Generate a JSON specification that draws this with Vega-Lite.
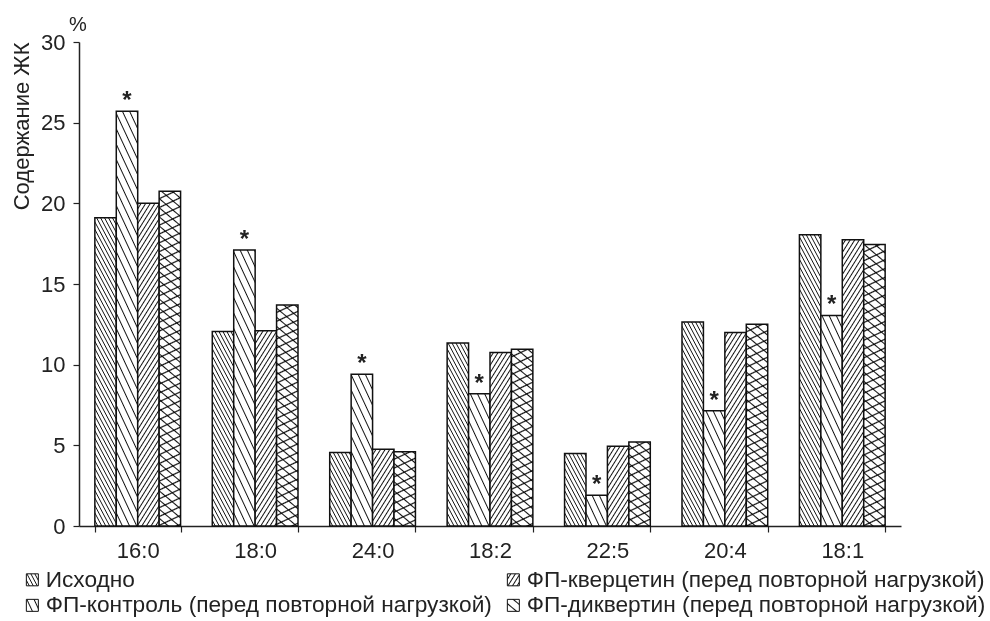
{
  "$schema": "https://vega.github.io/schema/vega-lite/v6.json",
  "width": 822,
  "height": 484,
  "autosize": {"type": "none"},
  "padding": {"left": 79, "top": 42, "right": 89, "bottom": 95},
  "background": "white",
  "config": {"view": {"stroke": null}, "font": "Liberation Sans"},
  "title": {"text": "%", "anchor": "start", "frame": "group", "fontSize": 20, "fontWeight": "normal", "font": "Liberation Sans", "color": "#222", "dx": -10, "offset": -4},
  "params": [
    {"name": "hs", "value": [
      {"offset":0.01,"color":"#fff"},{"offset":0.015,"color":"#111"},{"offset":0.02,"color":"#fff"},
      {"offset":0.03,"color":"#fff"},{"offset":0.035,"color":"#111"},{"offset":0.04,"color":"#fff"},
      {"offset":0.05,"color":"#fff"},{"offset":0.055,"color":"#111"},{"offset":0.06,"color":"#fff"},
      {"offset":0.07,"color":"#fff"},{"offset":0.075,"color":"#111"},{"offset":0.08,"color":"#fff"},
      {"offset":0.09,"color":"#fff"},{"offset":0.095,"color":"#111"},{"offset":0.1,"color":"#fff"},
      {"offset":0.11,"color":"#fff"},{"offset":0.115,"color":"#111"},{"offset":0.12,"color":"#fff"},
      {"offset":0.13,"color":"#fff"},{"offset":0.135,"color":"#111"},{"offset":0.14,"color":"#fff"},
      {"offset":0.15,"color":"#fff"},{"offset":0.155,"color":"#111"},{"offset":0.16,"color":"#fff"},
      {"offset":0.17,"color":"#fff"},{"offset":0.175,"color":"#111"},{"offset":0.18,"color":"#fff"},
      {"offset":0.19,"color":"#fff"},{"offset":0.195,"color":"#111"},{"offset":0.2,"color":"#fff"},
      {"offset":0.21,"color":"#fff"},{"offset":0.215,"color":"#111"},{"offset":0.22,"color":"#fff"},
      {"offset":0.23,"color":"#fff"},{"offset":0.235,"color":"#111"},{"offset":0.24,"color":"#fff"},
      {"offset":0.25,"color":"#fff"},{"offset":0.255,"color":"#111"},{"offset":0.26,"color":"#fff"},
      {"offset":0.27,"color":"#fff"},{"offset":0.275,"color":"#111"},{"offset":0.28,"color":"#fff"},
      {"offset":0.29,"color":"#fff"},{"offset":0.295,"color":"#111"},{"offset":0.3,"color":"#fff"},
      {"offset":0.31,"color":"#fff"},{"offset":0.315,"color":"#111"},{"offset":0.32,"color":"#fff"},
      {"offset":0.33,"color":"#fff"},{"offset":0.335,"color":"#111"},{"offset":0.34,"color":"#fff"},
      {"offset":0.35,"color":"#fff"},{"offset":0.355,"color":"#111"},{"offset":0.36,"color":"#fff"},
      {"offset":0.37,"color":"#fff"},{"offset":0.375,"color":"#111"},{"offset":0.38,"color":"#fff"},
      {"offset":0.39,"color":"#fff"},{"offset":0.395,"color":"#111"},{"offset":0.4,"color":"#fff"},
      {"offset":0.41,"color":"#fff"},{"offset":0.415,"color":"#111"},{"offset":0.42,"color":"#fff"},
      {"offset":0.43,"color":"#fff"},{"offset":0.435,"color":"#111"},{"offset":0.44,"color":"#fff"},
      {"offset":0.45,"color":"#fff"},{"offset":0.455,"color":"#111"},{"offset":0.46,"color":"#fff"},
      {"offset":0.47,"color":"#fff"},{"offset":0.475,"color":"#111"},{"offset":0.48,"color":"#fff"},
      {"offset":0.49,"color":"#fff"},{"offset":0.495,"color":"#111"},{"offset":0.5,"color":"#fff"},
      {"offset":0.51,"color":"#fff"},{"offset":0.515,"color":"#111"},{"offset":0.52,"color":"#fff"},
      {"offset":0.53,"color":"#fff"},{"offset":0.535,"color":"#111"},{"offset":0.54,"color":"#fff"},
      {"offset":0.55,"color":"#fff"},{"offset":0.555,"color":"#111"},{"offset":0.56,"color":"#fff"},
      {"offset":0.57,"color":"#fff"},{"offset":0.575,"color":"#111"},{"offset":0.58,"color":"#fff"},
      {"offset":0.59,"color":"#fff"},{"offset":0.595,"color":"#111"},{"offset":0.6,"color":"#fff"},
      {"offset":0.61,"color":"#fff"},{"offset":0.615,"color":"#111"},{"offset":0.62,"color":"#fff"},
      {"offset":0.63,"color":"#fff"},{"offset":0.635,"color":"#111"},{"offset":0.64,"color":"#fff"},
      {"offset":0.65,"color":"#fff"},{"offset":0.655,"color":"#111"},{"offset":0.66,"color":"#fff"},
      {"offset":0.67,"color":"#fff"},{"offset":0.675,"color":"#111"},{"offset":0.68,"color":"#fff"},
      {"offset":0.69,"color":"#fff"},{"offset":0.695,"color":"#111"},{"offset":0.7,"color":"#fff"},
      {"offset":0.71,"color":"#fff"},{"offset":0.715,"color":"#111"},{"offset":0.72,"color":"#fff"},
      {"offset":0.73,"color":"#fff"},{"offset":0.735,"color":"#111"},{"offset":0.74,"color":"#fff"},
      {"offset":0.75,"color":"#fff"},{"offset":0.755,"color":"#111"},{"offset":0.76,"color":"#fff"},
      {"offset":0.77,"color":"#fff"},{"offset":0.775,"color":"#111"},{"offset":0.78,"color":"#fff"},
      {"offset":0.79,"color":"#fff"},{"offset":0.795,"color":"#111"},{"offset":0.8,"color":"#fff"},
      {"offset":0.81,"color":"#fff"},{"offset":0.815,"color":"#111"},{"offset":0.82,"color":"#fff"},
      {"offset":0.83,"color":"#fff"},{"offset":0.835,"color":"#111"},{"offset":0.84,"color":"#fff"},
      {"offset":0.85,"color":"#fff"},{"offset":0.855,"color":"#111"},{"offset":0.86,"color":"#fff"},
      {"offset":0.87,"color":"#fff"},{"offset":0.875,"color":"#111"},{"offset":0.88,"color":"#fff"},
      {"offset":0.89,"color":"#fff"},{"offset":0.895,"color":"#111"},{"offset":0.9,"color":"#fff"},
      {"offset":0.91,"color":"#fff"},{"offset":0.915,"color":"#111"},{"offset":0.92,"color":"#fff"},
      {"offset":0.93,"color":"#fff"},{"offset":0.935,"color":"#111"},{"offset":0.94,"color":"#fff"},
      {"offset":0.95,"color":"#fff"},{"offset":0.955,"color":"#111"},{"offset":0.96,"color":"#fff"},
      {"offset":0.97,"color":"#fff"},{"offset":0.975,"color":"#111"},{"offset":0.98,"color":"#fff"},
      {"offset":0.99,"color":"#fff"},{"offset":0.995,"color":"#111"},{"offset":1,"color":"#fff"}
    ]},
    {"name": "hs2", "value": [
      {"offset":0.014,"color":"#fff"},{"offset":0.017,"color":"#111"},{"offset":0.02,"color":"#fff"},
      {"offset":0.034,"color":"#fff"},{"offset":0.037,"color":"#111"},{"offset":0.04,"color":"#fff"},
      {"offset":0.054,"color":"#fff"},{"offset":0.057,"color":"#111"},{"offset":0.06,"color":"#fff"},
      {"offset":0.074,"color":"#fff"},{"offset":0.077,"color":"#111"},{"offset":0.08,"color":"#fff"},
      {"offset":0.094,"color":"#fff"},{"offset":0.097,"color":"#111"},{"offset":0.1,"color":"#fff"},
      {"offset":0.114,"color":"#fff"},{"offset":0.117,"color":"#111"},{"offset":0.12,"color":"#fff"},
      {"offset":0.134,"color":"#fff"},{"offset":0.137,"color":"#111"},{"offset":0.14,"color":"#fff"},
      {"offset":0.154,"color":"#fff"},{"offset":0.157,"color":"#111"},{"offset":0.16,"color":"#fff"},
      {"offset":0.174,"color":"#fff"},{"offset":0.177,"color":"#111"},{"offset":0.18,"color":"#fff"},
      {"offset":0.194,"color":"#fff"},{"offset":0.197,"color":"#111"},{"offset":0.2,"color":"#fff"},
      {"offset":0.214,"color":"#fff"},{"offset":0.217,"color":"#111"},{"offset":0.22,"color":"#fff"},
      {"offset":0.234,"color":"#fff"},{"offset":0.237,"color":"#111"},{"offset":0.24,"color":"#fff"},
      {"offset":0.254,"color":"#fff"},{"offset":0.257,"color":"#111"},{"offset":0.26,"color":"#fff"},
      {"offset":0.274,"color":"#fff"},{"offset":0.277,"color":"#111"},{"offset":0.28,"color":"#fff"},
      {"offset":0.294,"color":"#fff"},{"offset":0.297,"color":"#111"},{"offset":0.3,"color":"#fff"},
      {"offset":0.314,"color":"#fff"},{"offset":0.317,"color":"#111"},{"offset":0.32,"color":"#fff"},
      {"offset":0.334,"color":"#fff"},{"offset":0.337,"color":"#111"},{"offset":0.34,"color":"#fff"},
      {"offset":0.354,"color":"#fff"},{"offset":0.357,"color":"#111"},{"offset":0.36,"color":"#fff"},
      {"offset":0.374,"color":"#fff"},{"offset":0.377,"color":"#111"},{"offset":0.38,"color":"#fff"},
      {"offset":0.394,"color":"#fff"},{"offset":0.397,"color":"#111"},{"offset":0.4,"color":"#fff"},
      {"offset":0.414,"color":"#fff"},{"offset":0.417,"color":"#111"},{"offset":0.42,"color":"#fff"},
      {"offset":0.434,"color":"#fff"},{"offset":0.437,"color":"#111"},{"offset":0.44,"color":"#fff"},
      {"offset":0.454,"color":"#fff"},{"offset":0.457,"color":"#111"},{"offset":0.46,"color":"#fff"},
      {"offset":0.474,"color":"#fff"},{"offset":0.477,"color":"#111"},{"offset":0.48,"color":"#fff"},
      {"offset":0.494,"color":"#fff"},{"offset":0.497,"color":"#111"},{"offset":0.5,"color":"#fff"},
      {"offset":0.514,"color":"#fff"},{"offset":0.517,"color":"#111"},{"offset":0.52,"color":"#fff"},
      {"offset":0.534,"color":"#fff"},{"offset":0.537,"color":"#111"},{"offset":0.54,"color":"#fff"},
      {"offset":0.554,"color":"#fff"},{"offset":0.557,"color":"#111"},{"offset":0.56,"color":"#fff"},
      {"offset":0.574,"color":"#fff"},{"offset":0.577,"color":"#111"},{"offset":0.58,"color":"#fff"},
      {"offset":0.594,"color":"#fff"},{"offset":0.597,"color":"#111"},{"offset":0.6,"color":"#fff"},
      {"offset":0.614,"color":"#fff"},{"offset":0.617,"color":"#111"},{"offset":0.62,"color":"#fff"},
      {"offset":0.634,"color":"#fff"},{"offset":0.637,"color":"#111"},{"offset":0.64,"color":"#fff"},
      {"offset":0.654,"color":"#fff"},{"offset":0.657,"color":"#111"},{"offset":0.66,"color":"#fff"},
      {"offset":0.674,"color":"#fff"},{"offset":0.677,"color":"#111"},{"offset":0.68,"color":"#fff"},
      {"offset":0.694,"color":"#fff"},{"offset":0.697,"color":"#111"},{"offset":0.7,"color":"#fff"},
      {"offset":0.714,"color":"#fff"},{"offset":0.717,"color":"#111"},{"offset":0.72,"color":"#fff"},
      {"offset":0.734,"color":"#fff"},{"offset":0.737,"color":"#111"},{"offset":0.74,"color":"#fff"},
      {"offset":0.754,"color":"#fff"},{"offset":0.757,"color":"#111"},{"offset":0.76,"color":"#fff"},
      {"offset":0.774,"color":"#fff"},{"offset":0.777,"color":"#111"},{"offset":0.78,"color":"#fff"},
      {"offset":0.794,"color":"#fff"},{"offset":0.797,"color":"#111"},{"offset":0.8,"color":"#fff"},
      {"offset":0.814,"color":"#fff"},{"offset":0.817,"color":"#111"},{"offset":0.82,"color":"#fff"},
      {"offset":0.834,"color":"#fff"},{"offset":0.837,"color":"#111"},{"offset":0.84,"color":"#fff"},
      {"offset":0.854,"color":"#fff"},{"offset":0.857,"color":"#111"},{"offset":0.86,"color":"#fff"},
      {"offset":0.874,"color":"#fff"},{"offset":0.877,"color":"#111"},{"offset":0.88,"color":"#fff"},
      {"offset":0.894,"color":"#fff"},{"offset":0.897,"color":"#111"},{"offset":0.9,"color":"#fff"},
      {"offset":0.914,"color":"#fff"},{"offset":0.917,"color":"#111"},{"offset":0.92,"color":"#fff"},
      {"offset":0.934,"color":"#fff"},{"offset":0.937,"color":"#111"},{"offset":0.94,"color":"#fff"},
      {"offset":0.954,"color":"#fff"},{"offset":0.957,"color":"#111"},{"offset":0.96,"color":"#fff"},
      {"offset":0.974,"color":"#fff"},{"offset":0.977,"color":"#111"},{"offset":0.98,"color":"#fff"},
      {"offset":0.994,"color":"#fff"},{"offset":0.997,"color":"#111"},{"offset":1,"color":"#fff"}
    ]}
  ],
  "data": {"values": [
    {"fa": "16:0", "s": "Исходно", "v": 19.1, "sig": ""},
    {"fa": "16:0", "s": "ФП-контроль (перед повторной нагрузкой)", "v": 25.7, "sig": "*"},
    {"fa": "16:0", "s": "ФП-кверцетин (перед повторной нагрузкой)", "v": 20.0, "sig": ""},
    {"fa": "16:0", "s": "ФП-диквертин (перед повторной нагрузкой)", "v": 20.75, "sig": ""},
    {"fa": "18:0", "s": "Исходно", "v": 12.05, "sig": ""},
    {"fa": "18:0", "s": "ФП-контроль (перед повторной нагрузкой)", "v": 17.1, "sig": "*"},
    {"fa": "18:0", "s": "ФП-кверцетин (перед повторной нагрузкой)", "v": 12.1, "sig": ""},
    {"fa": "18:0", "s": "ФП-диквертин (перед повторной нагрузкой)", "v": 13.7, "sig": ""},
    {"fa": "24:0", "s": "Исходно", "v": 4.55, "sig": ""},
    {"fa": "24:0", "s": "ФП-контроль (перед повторной нагрузкой)", "v": 9.4, "sig": "*"},
    {"fa": "24:0", "s": "ФП-кверцетин (перед повторной нагрузкой)", "v": 4.75, "sig": ""},
    {"fa": "24:0", "s": "ФП-диквертин (перед повторной нагрузкой)", "v": 4.6, "sig": ""},
    {"fa": "18:2", "s": "Исходно", "v": 11.35, "sig": ""},
    {"fa": "18:2", "s": "ФП-контроль (перед повторной нагрузкой)", "v": 8.2, "sig": "*"},
    {"fa": "18:2", "s": "ФП-кверцетин (перед повторной нагрузкой)", "v": 10.75, "sig": ""},
    {"fa": "18:2", "s": "ФП-диквертин (перед повторной нагрузкой)", "v": 10.95, "sig": ""},
    {"fa": "22:5", "s": "Исходно", "v": 4.5, "sig": ""},
    {"fa": "22:5", "s": "ФП-контроль (перед повторной нагрузкой)", "v": 1.9, "sig": "*"},
    {"fa": "22:5", "s": "ФП-кверцетин (перед повторной нагрузкой)", "v": 4.95, "sig": ""},
    {"fa": "22:5", "s": "ФП-диквертин (перед повторной нагрузкой)", "v": 5.2, "sig": ""},
    {"fa": "20:4", "s": "Исходно", "v": 12.65, "sig": ""},
    {"fa": "20:4", "s": "ФП-контроль (перед повторной нагрузкой)", "v": 7.15, "sig": "*"},
    {"fa": "20:4", "s": "ФП-кверцетин (перед повторной нагрузкой)", "v": 12.0, "sig": ""},
    {"fa": "20:4", "s": "ФП-диквертин (перед повторной нагрузкой)", "v": 12.5, "sig": ""},
    {"fa": "18:1", "s": "Исходно", "v": 18.05, "sig": ""},
    {"fa": "18:1", "s": "ФП-контроль (перед повторной нагрузкой)", "v": 13.05, "sig": "*"},
    {"fa": "18:1", "s": "ФП-кверцетин (перед повторной нагрузкой)", "v": 17.75, "sig": ""},
    {"fa": "18:1", "s": "ФП-диквертин (перед повторной нагрузкой)", "v": 17.45, "sig": ""}
  ]},
  "encoding": {
    "x": {"field": "fa", "type": "nominal",
      "sort": ["16:0", "18:0", "24:0", "18:2", "22:5", "20:4", "18:1"],
      "scale": {"paddingInner": 0.27, "paddingOuter": 0.135},
      "axis": {"title": null, "labelAngle": 0, "tickBand": "extent", "labelFontSize": 22, "labelFont": "Liberation Sans", "labelColor": "#222", "labelPadding": 8, "tickSize": 6, "tickColor": "#222", "domainColor": "#222", "domainWidth": 1.5, "tickWidth": 1.2}},
    "xOffset": {"field": "s", "type": "nominal",
      "scale": {"domain": ["Исходно", "ФП-контроль (перед повторной нагрузкой)", "ФП-кверцетин (перед повторной нагрузкой)", "ФП-диквертин (перед повторной нагрузкой)"], "paddingInner": 0, "paddingOuter": 0}},
    "y": {"field": "v", "type": "quantitative", "stack": null,
      "scale": {"domain": [0, 30], "nice": false},
      "axis": {"values": [0, 5, 10, 15, 20, 25, 30], "grid": false, "title": "Содержание ЖК", "titleAnchor": "end", "titleFontSize": 22, "titleFontWeight": "normal", "titleFont": "Liberation Sans", "titleColor": "#222", "titlePadding": 7, "labelFontSize": 22, "labelFont": "Liberation Sans", "labelColor": "#222", "labelPadding": 8, "tickSize": 6, "tickColor": "#222", "domainColor": "#222", "domainWidth": 1.5, "tickWidth": 1.2}}
  },
  "layer": [
    {
      "mark": {"type": "bar", "opacity": 0, "stroke": "#111", "strokeWidth": 1},
      "encoding": {
        "fill": {"field": "s", "type": "nominal",
          "scale": {"domain": ["Исходно", "ФП-кверцетин (перед повторной нагрузкой)", "ФП-контроль (перед повторной нагрузкой)", "ФП-диквертин (перед повторной нагрузкой)"],
            "range": [
              {"expr": "{gradient:'linear',x1:0,y1:1,x2:12.88,y2:-5.84,stops:hs}"},
              {"expr": "{gradient:'linear',x1:0,y1:0,x2:13.78,y2:8.61,stops:hs}"},
              {"expr": "{gradient:'linear',x1:0,y1:1,x2:24.54,y2:-10.46,stops:hs2}"},
              {"expr": "{gradient:'linear',x1:0,y1:1,x2:18.75,y2:-21.34,stops:hs2}"}
            ]},
          "legend": {"orient": "none", "legendX": -58, "legendY": 526, "direction": "horizontal", "columns": 2, "title": null,
            "symbolType": "square", "symbolSize": 144, "symbolStrokeWidth": 1, "symbolStrokeColor": "#111", "symbolOpacity": 1,
            "labelFontSize": 22.7, "labelFont": "Liberation Sans", "labelColor": "#222", "labelLimit": 700, "labelOffset": 2,
            "columnPadding": 10, "rowPadding": 2, "padding": 0}}
      }
    },
    {
      "mark": {"type": "bar", "strokeWidth": 1.5, "stroke": "#111",
        "fill": {"expr": "indexof(datum.s,'Исходно')>=0 ? {gradient:'linear',x1:0,y1:1,x2:154.5*bandwidth('xOffset')/(0.780*pow(bandwidth('xOffset'),2)+0.220*pow(scale('y',0)-scale('y',datum.v),2)),y2:1-82.08*(scale('y',0)-scale('y',datum.v))/(0.780*pow(bandwidth('xOffset'),2)+0.220*pow(scale('y',0)-scale('y',datum.v),2)),stops:hs} : indexof(datum.s,'контроль')>=0 ? {gradient:'linear',x1:0,y1:1,x2:294.45*bandwidth('xOffset')/(0.821*pow(bandwidth('xOffset'),2)+0.179*pow(scale('y',0)-scale('y',datum.v),2)),y2:1-137.5*(scale('y',0)-scale('y',datum.v))/(0.821*pow(bandwidth('xOffset'),2)+0.179*pow(scale('y',0)-scale('y',datum.v),2)),stops:hs2} : indexof(datum.s,'кверцетин')>=0 ? {gradient:'linear',x1:0,y1:0,x2:165.4*bandwidth('xOffset')/(0.719*pow(bandwidth('xOffset'),2)+0.281*pow(scale('y',0)-scale('y',datum.v),2)),y2:103.35*(scale('y',0)-scale('y',datum.v))/(0.719*pow(bandwidth('xOffset'),2)+0.281*pow(scale('y',0)-scale('y',datum.v),2)),stops:hs} : {gradient:'linear',x1:0,y1:1,x2:225.05*bandwidth('xOffset')/(0.413*pow(bandwidth('xOffset'),2)+0.587*pow(scale('y',0)-scale('y',datum.v),2)),y2:1-268.1*(scale('y',0)-scale('y',datum.v))/(0.413*pow(bandwidth('xOffset'),2)+0.587*pow(scale('y',0)-scale('y',datum.v),2)),stops:hs2}"}
      }
    },
    {
      "transform": [{"filter": "indexof(datum.s,'диквертин')>=0"}],
      "mark": {"type": "bar", "strokeWidth": 0, "blend": "multiply",
        "fill": {"expr": "{gradient:'linear',x1:0,y1:0,x2:169.2*bandwidth('xOffset')/(0.179*pow(bandwidth('xOffset'),2)+0.821*pow(scale('y',0)-scale('y',datum.v),2)),y2:362.4*(scale('y',0)-scale('y',datum.v))/(0.179*pow(bandwidth('xOffset'),2)+0.821*pow(scale('y',0)-scale('y',datum.v),2)),stops:hs2}"}
      }
    },
    {
      "mark": {"type": "text", "font": "Liberation Sans", "fontSize": 24, "fontWeight": "bold", "baseline": "alphabetic", "dy": -3, "color": "#222"},
      "encoding": {"text": {"field": "sig"}}
    }
  ]
}
